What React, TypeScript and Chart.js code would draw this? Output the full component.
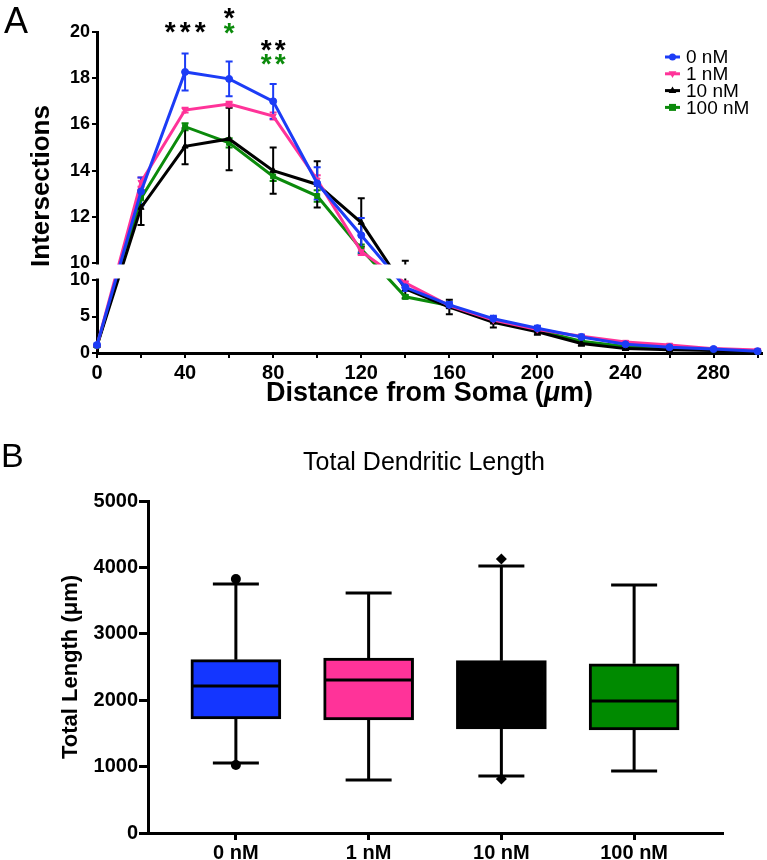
import React, { useEffect, useRef } from 'react';
import { Chart, registerables, LinearScale } from 'chart.js';

Chart.register(...registerables);

const FONT = '"Liberation Sans", Arial, Helvetica, sans-serif';

// ---------------- Panel A data (Sholl analysis) ----------------
const DISTANCE = [0, 20, 40, 60, 80, 100, 120, 140, 160, 180, 200, 220, 240, 260, 280, 300];
const SERIES_LABELS = ['0 nM', '1 nM', '10 nM', '100 nM'];
const MEAN_0NM = [1.1, 13.1, 18.27, 17.97, 17.0, 13.45, 11.2, 9.0, 6.6, 4.7, 3.4, 2.2, 1.2, 0.8, 0.55, 0.25];
const SEM_0NM = [0.2, 0.6, 0.8, 0.75, 0.75, 0.7, 0.75, 0.5, 0.4, 0.4, 0.35, 0.3, 0.2, 0.15, 0.1, 0.1];
const MEAN_1NM = [1.0, 13.5, 16.62, 16.88, 16.36, 13.6, 10.5, 9.6, 6.5, 4.5, 3.2, 2.3, 1.5, 1.1, 0.6, 0.4];
const SEM_1NM = [0.1, 0.2, 0.1, 0.1, 0.15, 0.2, 0.15, 0.2, 0.2, 0.2, 0.2, 0.2, 0.15, 0.1, 0.1, 0.1];
const MEAN_10NM = [1.0, 12.4, 15.05, 15.37, 14.0, 13.4, 11.75, 8.8, 6.3, 4.2, 2.9, 1.3, 0.6, 0.45, 0.35, 0.15];
const SEM_10NM = [0.1, 0.75, 0.78, 1.35, 1.0, 1.0, 1.05, 1.3, 1.0, 0.7, 0.4, 0.3, 0.2, 0.15, 0.1, 0.1];
const MEAN_100NM = [1.0, 12.8, 15.9, 15.2, 13.75, 12.9, 10.6, 7.7, 6.5, 4.4, 3.1, 1.6, 0.9, 0.6, 0.4, 0.2];
const SEM_100NM = [0.1, 0.25, 0.15, 0.2, 0.2, 0.25, 0.2, 0.25, 0.2, 0.2, 0.2, 0.2, 0.1, 0.1, 0.1, 0.1];

const X_TICKS_A = [0, 20, 40, 60, 80, 100, 120, 140, 160, 180, 200, 220, 240, 260, 280, 300];
const X_LABEL_EVERY = 40;
const Y_TICKS_LOWER = [0, 5, 10];
const Y_TICKS_UPPER = [10, 12, 14, 16, 18, 20];
const Y_BREAK = 10;
const Y_MAX = 20;

// significance marks
const SIG_AT = [40, 60, 60, 80, 80];
const SIG_COUNT = [3, 1, 1, 2, 2];
const SIG_IS_GREEN = [false, false, true, false, true];

// ---------------- Panel B data (box plot) ----------------
const GROUPS = ['0 nM', '1 nM', '10 nM', '100 nM'];
const LEN_MIN = [1054, 798, 858, 934];
const LEN_Q1 = [1717, 1702, 1566, 1551];
const LEN_MEDIAN = [2214, 2304, 2100, 1988];
const LEN_Q3 = [2610, 2635, 2595, 2548];
const LEN_MAX = [3750, 3614, 4021, 3735];
const LEN_OUTLIERS = [[3825, 1024], [], [4126, 813], []];
const Y_TICKS_B = [0, 1000, 2000, 3000, 4000, 5000];

// ---------------- styles ----------------
const COLORS = ['#1c3cf6', '#ff3399', '#000000', '#0b8a0b'];
const BOX_COLORS = ['#1436ff', '#ff3399', '#000000', '#008a00'];
const POINT_STYLES = ['circle', 'triangleDown', 'triangleUp', 'square'];
const OUTLIER_STYLES = ['circle', 'circle', 'diamond', 'circle'];

// layout of broken axis (fractions of plot height)
const LOWER_FRAC = 73 / 321;
const UPPER_FRAC = 231 / 321;

class BrokenScale extends LinearScale {
  static id = 'broken';
  static defaults = LinearScale.defaults;
  segs() {
    const H = this.bottom - this.top;
    return { lowerTop: this.bottom - H * LOWER_FRAC, upperBottom: this.top + H * UPPER_FRAC };
  }
  getPixelForValue(value: number) {
    if (value === null || value === undefined) return NaN;
    const { lowerTop, upperBottom } = this.segs();
    if (value <= Y_BREAK) return this.bottom - (value / Y_BREAK) * (this.bottom - lowerTop);
    return this.top + ((Y_MAX - value) / (Y_MAX - Y_BREAK)) * (upperBottom - this.top);
  }
  getPixelForTick(index: number) {
    const t: any = this.ticks[index];
    if (!t) return NaN;
    if (t.upper && t.value === Y_BREAK) return this.segs().upperBottom;
    return this.getPixelForValue(t.value);
  }
  buildTicks() {
    (this as any).start = 0;
    (this as any).end = Y_MAX;
    return [
      ...Y_TICKS_LOWER.map((v) => ({ value: v, upper: false })),
      ...Y_TICKS_UPPER.map((v) => ({ value: v, upper: true })),
    ] as any;
  }
}
Chart.register(BrokenScale);

function drawMarker(ctx: CanvasRenderingContext2D, style: string, x: number, y: number, r: number) {
  ctx.beginPath();
  if (style === 'circle') ctx.arc(x, y, r, 0, Math.PI * 2);
  else if (style === 'triangleUp') {
    ctx.moveTo(x, y - r * 1.2);
    ctx.lineTo(x + r * 1.1, y + r * 0.7);
    ctx.lineTo(x - r * 1.1, y + r * 0.7);
    ctx.closePath();
  } else if (style === 'triangleDown') {
    ctx.moveTo(x, y + r * 1.2);
    ctx.lineTo(x + r * 1.1, y - r * 0.7);
    ctx.lineTo(x - r * 1.1, y - r * 0.7);
    ctx.closePath();
  } else if (style === 'square') ctx.rect(x - r, y - r, 2 * r, 2 * r);
  else if (style === 'diamond') {
    ctx.moveTo(x, y - r);
    ctx.lineTo(x + r, y);
    ctx.lineTo(x, y + r);
    ctx.lineTo(x - r, y);
    ctx.closePath();
  }
  ctx.fill();
}

function drawCenteredGlyph(ctx: CanvasRenderingContext2D, text: string, x: number, cy: number) {
  ctx.textAlign = 'center';
  ctx.textBaseline = 'alphabetic';
  const m = ctx.measureText(text);
  const a = m.actualBoundingBoxAscent;
  const d = m.actualBoundingBoxDescent;
  ctx.fillText(text, x, cy + (a - d) / 2);
}

function drawMixed(ctx: CanvasRenderingContext2D, parts: { t: string; f: string }[], cx: number, cy: number) {
  let total = 0;
  parts.forEach((p) => {
    ctx.font = p.f;
    total += ctx.measureText(p.t).width;
  });
  let x = cx - total / 2;
  ctx.textAlign = 'left';
  ctx.textBaseline = 'middle';
  parts.forEach((p) => {
    ctx.font = p.f;
    ctx.fillText(p.t, x, cy);
    x += ctx.measureText(p.t).width;
  });
}

function configA(): any {
  const means = [MEAN_0NM, MEAN_1NM, MEAN_10NM, MEAN_100NM];
  const sems = [SEM_0NM, SEM_1NM, SEM_10NM, SEM_100NM];
  const cjsStyle = ['circle', 'triangle', 'triangle', 'rect'];
  const rot = [0, 180, 0, 0];
  const datasets = SERIES_LABELS.map((lab, k) => ({
    label: lab,
    data: DISTANCE.map((d, i) => ({ x: d, y: means[k][i] })),
    errors: sems[k],
    borderColor: COLORS[k],
    backgroundColor: COLORS[k],
    borderWidth: 3,
    pointRadius: 3.5,
    pointStyle: cjsStyle[k],
    pointRotation: rot[k],
    pointBorderWidth: 1,
    tension: 0,
    clip: false,
  }));

  const plugin = {
    id: 'panelA',
    beforeDatasetsDraw(chart: any) {
      const ctx = chart.ctx;
      const ys = chart.scales.y;
      ctx.save();
      for (let di = chart.data.datasets.length - 1; di >= 0; di--) {
        const ds = chart.data.datasets[di];
        const meta = chart.getDatasetMeta(di);
        ctx.strokeStyle = ds.borderColor;
        ctx.lineWidth = 2;
        meta.data.forEach((pt: any, i: number) => {
          const v = ds.data[i].y;
          const e = ds.errors[i];
          const yt = ys.getPixelForValue(v + e);
          const yb = ys.getPixelForValue(v - e);
          ctx.beginPath();
          ctx.moveTo(pt.x, yt);
          ctx.lineTo(pt.x, yb);
          ctx.moveTo(pt.x - 3.5, yt);
          ctx.lineTo(pt.x + 3.5, yt);
          ctx.moveTo(pt.x - 3.5, yb);
          ctx.lineTo(pt.x + 3.5, yb);
          ctx.stroke();
        });
      }
      ctx.restore();
    },
    afterDatasetsDraw(chart: any) {
      const ctx = chart.ctx;
      const ys = chart.scales.y;
      const xs = chart.scales.x;
      const area = chart.chartArea;
      const { lowerTop, upperBottom } = ys.segs();
      ctx.save();
      // axis break gap
      ctx.fillStyle = '#ffffff';
      ctx.fillRect(area.left - 3, upperBottom + 1.5, area.right - area.left + 3, lowerTop - upperBottom - 3);

      ctx.fillStyle = '#000';
      // panel letter
      ctx.font = `36px ${FONT}`;
      ctx.textAlign = 'left';
      ctx.textBaseline = 'alphabetic';
      ctx.fillText('A', 4, 33);

      // y title
      ctx.save();
      ctx.translate(42, 186);
      ctx.rotate(-Math.PI / 2);
      ctx.font = `bold 26px ${FONT}`;
      ctx.textAlign = 'center';
      ctx.textBaseline = 'middle';
      ctx.fillText('Intersections', 0, 0);
      ctx.restore();

      // x title
      drawMixed(
        ctx,
        [
          { t: 'Distance from Soma (', f: `bold 27px ${FONT}` },
          { t: 'μ', f: `italic bold 27px ${FONT}` },
          { t: 'm)', f: `bold 27px ${FONT}` },
        ],
        (area.left + area.right) / 2,
        394
      );

      // significance stars
      const rowY = [27, 13, 28, 45, 59];
      ctx.font = `bold 28px ${FONT}`;
      SIG_AT.forEach((xv, k) => {
        const cx = xs.getPixelForValue(xv);
        const n = SIG_COUNT[k];
        const sp = n === 3 ? 15 : 14;
        ctx.fillStyle = SIG_IS_GREEN[k] ? COLORS[3] : '#000';
        for (let j = 0; j < n; j++) {
          drawCenteredGlyph(ctx, '*', cx + (j - (n - 1) / 2) * sp, rowY[k]);
        }
      });

      // legend
      ctx.font = `19px ${FONT}`;
      SERIES_LABELS.forEach((lab, k) => {
        const y = 57 + k * 16.8;
        ctx.strokeStyle = COLORS[k];
        ctx.fillStyle = COLORS[k];
        ctx.lineWidth = 3;
        ctx.beginPath();
        ctx.moveTo(665, y);
        ctx.lineTo(680, y);
        ctx.stroke();
        drawMarker(ctx, POINT_STYLES[k], 672.5, y, 3.5);
        ctx.fillStyle = '#000';
        ctx.textAlign = 'left';
        ctx.textBaseline = 'middle';
        ctx.fillText(lab, 686, y + 1);
      });
      ctx.restore();
    },
  };

  return {
    type: 'line',
    data: { datasets },
    plugins: [plugin],
    options: {
      responsive: false,
      animation: false,
      devicePixelRatio: 1,
      events: [],
      layout: { padding: { top: 32, left: 0, right: 0, bottom: 0 } },
      plugins: { legend: { display: false }, tooltip: { enabled: false } },
      scales: {
        x: {
          type: 'linear',
          min: 0,
          max: 302,
          afterFit: (s: any) => {
            s.height = 77;
          },
          afterBuildTicks: (s: any) => {
            s.ticks = X_TICKS_A.map((v) => ({ value: v }));
          },
          ticks: {
            autoSkip: false,
            maxRotation: 0,
            padding: 3,
            color: '#000',
            font: { family: FONT, size: 20, weight: 'bold' },
            callback: (v: number) => (v % X_LABEL_EVERY === 0 ? String(v) : ''),
          },
          grid: { display: true, drawOnChartArea: false, drawTicks: true, tickLength: 5, color: '#000', lineWidth: 2 },
          border: { display: true, color: '#000', width: 3 },
        },
        y: {
          type: 'broken',
          min: 0,
          max: Y_MAX,
          afterFit: (s: any) => {
            s.width = 97;
          },
          ticks: {
            autoSkip: false,
            padding: 2,
            color: '#000',
            font: { family: FONT, size: 18, weight: 'bold' },
            callback: (v: number) => String(Math.round(v)),
          },
          grid: { display: true, drawOnChartArea: false, drawTicks: true, tickLength: 5, color: '#000', lineWidth: 2 },
          border: { display: true, color: '#000', width: 3 },
        },
      },
    },
  };
}

function configB(): any {
  const plugin = {
    id: 'panelB',
    beforeDatasetsDraw(chart: any) {
      const ctx = chart.ctx;
      const xs = chart.scales.x;
      const ys = chart.scales.y;
      ctx.save();
      ctx.strokeStyle = '#000';
      ctx.lineWidth = 3;
      GROUPS.forEach((_, i) => {
        const x = xs.getPixelForValue(i);
        const yMax = ys.getPixelForValue(LEN_MAX[i]);
        const yMin = ys.getPixelForValue(LEN_MIN[i]);
        ctx.beginPath();
        ctx.moveTo(x, ys.getPixelForValue(LEN_Q3[i]));
        ctx.lineTo(x, yMax);
        ctx.moveTo(x, ys.getPixelForValue(LEN_Q1[i]));
        ctx.lineTo(x, yMin);
        ctx.moveTo(x - 23, yMax);
        ctx.lineTo(x + 23, yMax);
        ctx.moveTo(x - 23, yMin);
        ctx.lineTo(x + 23, yMin);
        ctx.stroke();
      });
      ctx.restore();
    },
    afterDatasetsDraw(chart: any) {
      const ctx = chart.ctx;
      const xs = chart.scales.x;
      const ys = chart.scales.y;
      const meta = chart.getDatasetMeta(0);
      ctx.save();
      ctx.strokeStyle = '#000';
      ctx.lineWidth = 3;
      GROUPS.forEach((_, i) => {
        const bar = meta.data[i];
        const x = xs.getPixelForValue(i);
        const half = bar.width / 2;
        const ym = ys.getPixelForValue(LEN_MEDIAN[i]);
        ctx.beginPath();
        ctx.moveTo(x - half + 2, ym);
        ctx.lineTo(x + half - 2, ym);
        ctx.stroke();
        ctx.fillStyle = '#000';
        LEN_OUTLIERS[i].forEach((v) => {
          drawMarker(ctx, OUTLIER_STYLES[i], x, ys.getPixelForValue(v), OUTLIER_STYLES[i] === 'diamond' ? 5.5 : 5);
        });
      });

      ctx.fillStyle = '#000';
      ctx.font = `34px ${FONT}`;
      ctx.textAlign = 'left';
      ctx.textBaseline = 'alphabetic';
      ctx.fillText('B', 1, 37);

      ctx.font = `25px ${FONT}`;
      ctx.textAlign = 'center';
      ctx.textBaseline = 'middle';
      ctx.fillText('Total Dendritic Length', 424, 33);

      ctx.save();
      ctx.translate(71, (chart.chartArea.top + chart.chartArea.bottom) / 2);
      ctx.rotate(-Math.PI / 2);
      ctx.font = `bold 22px ${FONT}`;
      ctx.textAlign = 'center';
      ctx.textBaseline = 'middle';
      ctx.fillText('Total Length (μm)', 0, 0);
      ctx.restore();
      ctx.restore();
    },
  };

  return {
    type: 'bar',
    data: {
      datasets: [
        {
          label: 'Total Length',
          data: GROUPS.map((_, i) => ({ x: i, y: [LEN_Q1[i], LEN_Q3[i]] })),
          backgroundColor: BOX_COLORS,
          borderColor: '#000',
          borderWidth: 3,
          borderSkipped: false,
          barThickness: 90,
        },
      ],
    },
    plugins: [plugin],
    options: {
      responsive: false,
      animation: false,
      devicePixelRatio: 1,
      events: [],
      layout: { padding: { top: 71, left: 0, right: 45, bottom: 0 } },
      plugins: { legend: { display: false }, tooltip: { enabled: false } },
      scales: {
        x: {
          type: 'linear',
          offset: false,
          min: -0.662,
          max: 3.662,
          afterFit: (s: any) => {
            s.height = 27;
          },
          afterBuildTicks: (s: any) => {
            s.ticks = GROUPS.map((_, i) => ({ value: i }));
          },
          ticks: {
            autoSkip: false,
            maxRotation: 0,
            padding: 1,
            color: '#000',
            font: { family: FONT, size: 20, weight: 'bold' },
            callback: (v: number) => GROUPS[v] ?? '',
          },
          grid: {
            display: true,
            offset: false,
            drawOnChartArea: false,
            drawTicks: true,
            tickLength: 7,
            color: '#000',
            lineWidth: 3,
          },
          border: { display: true, color: '#000', width: 3 },
        },
        y: {
          type: 'linear',
          min: 0,
          max: 5000,
          afterFit: (s: any) => {
            s.width = 148;
          },
          afterBuildTicks: (s: any) => {
            s.ticks = Y_TICKS_B.map((v) => ({ value: v }));
          },
          ticks: {
            autoSkip: false,
            padding: 1,
            color: '#000',
            font: { family: FONT, size: 20, weight: 'bold' },
            callback: (v: number) => String(v),
          },
          grid: { display: true, drawOnChartArea: false, drawTicks: true, tickLength: 9, color: '#000', lineWidth: 3 },
          border: { display: true, color: '#000', width: 3 },
        },
      },
    },
  };
}

export default function App() {
  const refA = useRef<HTMLCanvasElement>(null);
  const refB = useRef<HTMLCanvasElement>(null);
  useEffect(() => {
    const a = new Chart(refA.current as HTMLCanvasElement, configA());
    const b = new Chart(refB.current as HTMLCanvasElement, configB());
    return () => {
      a.destroy();
      b.destroy();
    };
  }, []);
  return (
    <div style={{ position: 'absolute', left: 0, top: 0, width: 767, height: 860, background: '#fff' }}>
      <canvas ref={refA} width={767} height={430} style={{ position: 'absolute', left: 0, top: 0 }} />
      <canvas ref={refB} width={767} height={430} style={{ position: 'absolute', left: 0, top: 430 }} />
    </div>
  );
}
